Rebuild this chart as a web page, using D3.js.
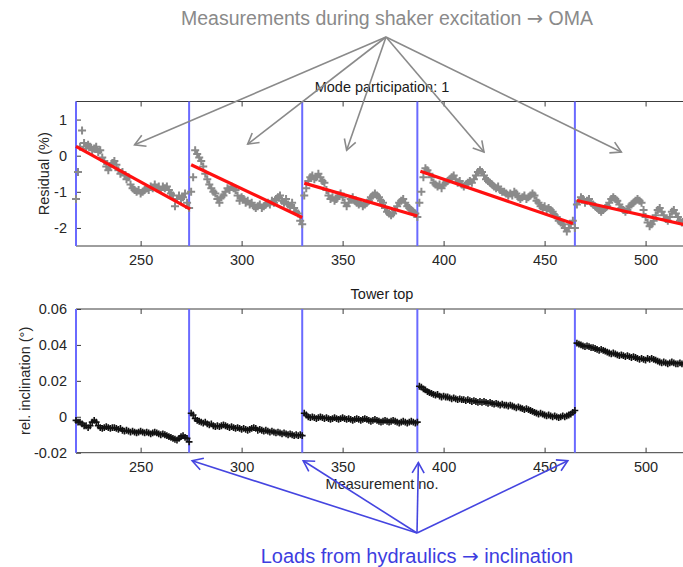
<!DOCTYPE html>
<html>
<head>
<meta charset="utf-8">
<script src="https://cdn.jsdelivr.net/npm/d3@7"></script>
<style>
  html, body { margin: 0; padding: 0; background: #fff; }
  svg { display: block; font-family: "Liberation Sans", Arial, sans-serif; }
</style>
</head>
<body>
<svg id="chart" width="683" height="567"></svg>
<script>
// ---- measurement data -------------------------------------------------
// Measurement numbers where each block of shaker measurements starts
const segmentStarts = [218, 275, 331, 388, 466];
// Measurement numbers at which a hydraulic load step was applied (blue lines)
const loadSteps = [218, 274, 330, 387, 465];

// Mode participation residual (%), one value per measurement
const residualSeg1 = [-1.2,-0.45,0.25,0.7,0.35,0.2,0.3,0.25,0.15,0.2,0.25,0.1,0.15,-0.05,-0.15,-0.3,-0.4,-0.3,-0.2,-0.15,-0.25,-0.4,-0.5,-0.45,-0.55,-0.65,-0.6,-0.8,-0.9,-0.95,-1.0,-0.95,-1.05,-1.0,-0.95,-0.9,-0.95,-0.85,-0.9,-0.8,-0.9,-0.85,-0.95,-0.85,-0.9,-0.85,-0.95,-1.05,-1.1,-1.4,-1.2,-1.1,-1.2,-1.15,-1.05,-1.3,-1.45];
const residualSeg2 = [-1.0,-0.6,0.15,0.05,-0.05,-0.15,-0.3,-0.5,-0.65,-0.8,-0.9,-1.0,-1.05,-1.2,-1.3,-1.15,-1.1,-1.0,-0.9,-0.95,-0.85,-0.9,-0.95,-1.1,-1.25,-1.15,-1.2,-1.3,-1.25,-1.35,-1.3,-1.4,-1.45,-1.4,-1.35,-1.45,-1.4,-1.35,-1.3,-1.35,-1.25,-1.3,-1.2,-1.15,-1.1,-1.25,-1.3,-1.2,-1.35,-1.4,-1.3,-1.45,-1.55,-1.6,-1.8,-1.9];
const residualSeg3 = [-1.1,-0.9,-0.7,-0.6,-0.55,-0.65,-0.6,-0.5,-0.6,-0.7,-0.75,-0.95,-1.1,-1.2,-1.15,-1.25,-1.2,-1.1,-1.05,-1.15,-1.3,-1.4,-1.3,-1.2,-1.15,-1.25,-1.3,-1.35,-1.3,-1.4,-1.35,-1.3,-1.25,-1.15,-1.1,-1.05,-1.1,-1.15,-1.25,-1.3,-1.45,-1.55,-1.6,-1.65,-1.6,-1.5,-1.4,-1.3,-1.25,-1.2,-1.3,-1.4,-1.45,-1.5,-1.55,-1.6,-1.7];
const residualSeg4 = [-1.3,-1.0,-0.6,-0.35,-0.4,-0.5,-0.6,-0.75,-0.8,-0.85,-0.8,-0.9,-0.8,-0.75,-0.7,-0.65,-0.6,-0.55,-0.65,-0.75,-0.7,-0.8,-0.85,-0.8,-0.75,-0.7,-0.75,-0.65,-0.55,-0.45,-0.4,-0.45,-0.55,-0.65,-0.7,-0.75,-0.8,-0.85,-0.9,-0.85,-0.95,-1.0,-1.0,-1.05,-1.1,-1.05,-1.1,-1.0,-1.05,-1.15,-1.2,-1.15,-1.1,-1.2,-1.15,-1.1,-1.05,-1.1,-1.25,-1.3,-1.4,-1.45,-1.4,-1.5,-1.45,-1.5,-1.55,-1.65,-1.7,-1.8,-1.85,-1.9,-2.0,-2.1,-2.0,-1.9,-1.8,-2.0];
const residualSeg5 = [-1.35,-1.25,-1.15,-1.2,-1.3,-1.25,-1.2,-1.3,-1.35,-1.4,-1.45,-1.5,-1.55,-1.5,-1.45,-1.4,-1.3,-1.2,-1.15,-1.2,-1.25,-1.35,-1.45,-1.5,-1.55,-1.5,-1.4,-1.35,-1.3,-1.25,-1.2,-1.25,-1.3,-1.5,-1.7,-1.85,-1.95,-1.9,-1.8,-1.65,-1.5,-1.45,-1.55,-1.65,-1.75,-1.8,-1.7,-1.55,-1.5,-1.6,-1.7,-1.8,-1.85,-1.8,-1.75,-1.7];

// Linear trend of the residual within each block: [measurement, residual]
const fitStart = [[218, 0.26], [275, -0.25], [331, -0.76], [388.5, -0.43], [466, -1.24]];
const fitEnd   = [[274.5, -1.48], [330, -1.71], [387, -1.67], [464, -1.88], [521, -1.93]];

// Relative tower-top inclination (deg), one value per measurement
const inclinationSeg1 = [-0.002,-0.003,-0.003,-0.004,-0.005,-0.005,-0.006,-0.005,-0.003,-0.002,-0.003,-0.005,-0.006,-0.0065,-0.006,-0.0055,-0.006,-0.0065,-0.006,-0.006,-0.0065,-0.007,-0.0065,-0.0075,-0.008,-0.0075,-0.008,-0.0085,-0.008,-0.0085,-0.009,-0.0085,-0.008,-0.0085,-0.009,-0.0085,-0.009,-0.0095,-0.009,-0.0085,-0.009,-0.0095,-0.01,-0.0095,-0.01,-0.0105,-0.011,-0.0115,-0.012,-0.0125,-0.013,-0.012,-0.011,-0.0105,-0.0115,-0.012,-0.014];
const inclinationSeg2 = [0.002,0.001,-0.001,-0.002,-0.0025,-0.003,-0.0035,-0.003,-0.004,-0.0045,-0.004,-0.005,-0.0055,-0.005,-0.0055,-0.005,-0.0045,-0.005,-0.0055,-0.006,-0.0055,-0.006,-0.0065,-0.006,-0.0065,-0.007,-0.0065,-0.007,-0.0075,-0.007,-0.0065,-0.006,-0.0065,-0.0075,-0.007,-0.0075,-0.008,-0.0075,-0.008,-0.0085,-0.008,-0.0085,-0.009,-0.0085,-0.009,-0.0095,-0.009,-0.0095,-0.01,-0.0095,-0.01,-0.0105,-0.01,-0.0105,-0.01,-0.0105];
const inclinationSeg3 = [0.002,0.001,0.0,-0.0005,0.0,-0.0005,-0.001,-0.0005,0.0,-0.0005,-0.001,-0.0005,-0.001,-0.0015,-0.001,-0.0005,-0.001,-0.0015,-0.001,-0.0005,-0.001,-0.0015,-0.001,-0.0015,-0.002,-0.0015,-0.001,-0.0015,-0.002,-0.0015,-0.001,-0.0015,-0.002,-0.0025,-0.002,-0.0015,-0.002,-0.0025,-0.003,-0.0025,-0.002,-0.0025,-0.003,-0.0025,-0.002,-0.0025,-0.003,-0.0035,-0.003,-0.0025,-0.003,-0.0035,-0.003,-0.0025,-0.003,-0.0035,-0.003];
const inclinationSeg4 = [0.017,0.0165,0.0155,0.015,0.014,0.0135,0.013,0.0125,0.012,0.0125,0.0115,0.011,0.0115,0.011,0.011,0.0105,0.01,0.0105,0.01,0.0095,0.01,0.0095,0.0095,0.009,0.0095,0.009,0.0085,0.009,0.0085,0.008,0.0085,0.008,0.0085,0.008,0.0075,0.008,0.0075,0.007,0.0075,0.007,0.0065,0.007,0.0065,0.0065,0.006,0.0065,0.006,0.0055,0.005,0.0055,0.005,0.0045,0.004,0.0045,0.004,0.0035,0.003,0.0025,0.002,0.0015,0.002,0.0015,0.001,0.0005,0.001,0.0005,0.0,0.0005,0.0,-0.0005,0.0,0.0005,0.0,0.0005,0.001,0.0015,0.0025,0.0035];
const inclinationSeg5 = [0.041,0.0405,0.04,0.0395,0.039,0.0395,0.039,0.0385,0.0385,0.038,0.0375,0.037,0.0375,0.037,0.0365,0.036,0.0355,0.035,0.0355,0.035,0.0345,0.034,0.0345,0.034,0.0335,0.034,0.0335,0.033,0.0335,0.033,0.0325,0.032,0.0325,0.032,0.0315,0.0325,0.032,0.0325,0.032,0.0315,0.031,0.0305,0.03,0.0305,0.03,0.0295,0.03,0.0305,0.03,0.0295,0.0295,0.03,0.0295,0.029,0.0295,0.029];

// Axis ticks
const measurementTicks = [250, 300, 350, 400, 450, 500];
const residualTicks = [1, 0, -1, -2];
const inclinationTicks = [0.06, 0.04, 0.02, 0, -0.02];

// Annotation arrow targets in data coordinates
const shakerTargets = [[247, 0.3], [303, 0.32], [352, 0.15], [420, 0.1], [488, 0.1]];
const hydraulicTargets = [[275.5, -0.0245], [330.5, -0.0245], [387.5, -0.0255], [461.5, -0.0245]];

// ---- drawing -----------------------------------------------------------
const svg = d3.select("#chart");
const FONT = '"Liberation Sans", Arial, sans-serif';

const x = d3.scaleLinear().domain([218, 521]).range([76, 688]);
const yRes = d3.scaleLinear().domain([-2.5, 1.5]).range([246, 101.5]);
const yInc = d3.scaleLinear().domain([-0.02, 0.06]).range([452.7, 309]);

function toPoints(segs) {
  const pts = [];
  segs.forEach((vals, k) => vals.forEach((v, i) => pts.push([segmentStarts[k] + i, v])));
  return pts;
}
const residualPoints = toPoints([residualSeg1, residualSeg2, residualSeg3, residualSeg4, residualSeg5]);
const inclinationPoints = toPoints([inclinationSeg1, inclinationSeg2, inclinationSeg3, inclinationSeg4, inclinationSeg5]);

function panel(y, ticks, fmt, points, markColor, markSize, markWidth, title, yLabel, yLabelX) {
  const [y0, y1] = y.range();
  const g = svg.append("g");
  const frame = "#3c3c3c";

  // frame: top, bottom and left edges
  g.append("line").attr("x1", 76).attr("x2", 700).attr("y1", y1).attr("y2", y1).attr("stroke", frame);
  g.append("line").attr("x1", 76).attr("x2", 700).attr("y1", y0).attr("y2", y0).attr("stroke", frame);
  g.append("line").attr("x1", 76).attr("x2", 76).attr("y1", y1).attr("y2", y0).attr("stroke", frame);

  // x ticks (inward, top and bottom) with labels below
  const bottomAxis = d3.axisBottom(x).tickValues(measurementTicks).tickSizeInner(-5).tickSizeOuter(0).tickPadding(9);
  const ax = g.append("g").attr("transform", `translate(0,${y0})`).call(bottomAxis);
  ax.select(".domain").remove();
  ax.selectAll("line").attr("stroke", frame);
  ax.selectAll("text").attr("font-size", 14.5).attr("font-family", FONT).attr("fill", "#262626");
  const topAxis = d3.axisTop(x).tickValues(measurementTicks).tickSizeInner(-5).tickSizeOuter(0).tickFormat("");
  const at = g.append("g").attr("transform", `translate(0,${y1})`).call(topAxis);
  at.select(".domain").remove();
  at.selectAll("line").attr("stroke", frame);

  // y ticks (inward) with labels on the left
  const leftAxis = d3.axisLeft(y).tickValues(ticks).tickFormat(fmt).tickSizeInner(-5).tickSizeOuter(0).tickPadding(9);
  const ay = g.append("g").attr("transform", "translate(76,0)").call(leftAxis);
  ay.select(".domain").remove();
  ay.selectAll("line").attr("stroke", frame);
  ay.selectAll("text").attr("font-size", 14.5).attr("font-family", FONT).attr("fill", "#262626");

  // load step markers
  g.selectAll(".step").data(loadSteps).join("line")
    .attr("x1", d => x(d)).attr("x2", d => x(d))
    .attr("y1", y1).attr("y2", y0)
    .attr("stroke", "#6a6aff").attr("stroke-width", 2);

  // measurement markers ("+")
  g.append("path")
    .attr("d", points.map(([m, v]) => {
      const cx = x(m), cy = y(v);
      return `M${cx - markSize},${cy}h${2 * markSize}M${cx},${cy - markSize}v${2 * markSize}`;
    }).join(""))
    .attr("stroke", markColor).attr("stroke-width", markWidth).attr("fill", "none");

  // title
  g.append("text").attr("x", 382).attr("y", y1 - 10).attr("text-anchor", "middle")
    .attr("font-size", 14.5).attr("font-family", FONT).attr("fill", "#1a1a1a").text(title);

  // y label
  g.append("text")
    .attr("transform", `translate(${yLabelX},${(y0 + y1) / 2}) rotate(-90)`)
    .attr("text-anchor", "middle").attr("dominant-baseline", "central")
    .attr("font-size", 14.5).attr("font-family", FONT).attr("fill", "#262626").text(yLabel);
  return g;
}

const residualPanel = panel(yRes, residualTicks, d => d3.format("d")(d).replace("−", "-"), residualPoints,
  "#8a8a8a", 4, 2, "Mode participation: 1", "Residual (%)", 44);

// residual trend lines
residualPanel.selectAll(".fit").data(fitStart.map((s, i) => [s, fitEnd[i]])).join("line")
  .attr("x1", d => x(d[0][0])).attr("y1", d => yRes(d[0][1]))
  .attr("x2", d => x(d[1][0])).attr("y2", d => yRes(d[1][1]))
  .attr("stroke", "#ff1010").attr("stroke-width", 3.2);

panel(yInc, inclinationTicks, d => (d === 0 ? "0" : d3.format(".2f")(d).replace("−", "-")), inclinationPoints,
  "#111", 3.4, 1.6, "Tower top", "rel. inclination (°)", 25);

// x label of the lower panel
svg.append("text").attr("x", 382).attr("y", 489).attr("text-anchor", "middle")
  .attr("font-size", 14.5).attr("font-family", FONT).attr("fill", "#262626").text("Measurement no.");

// ---- annotations -------------------------------------------------------
function arrow(g, from, to, color) {
  const ang = Math.atan2(to[1] - from[1], to[0] - from[0]);
  const len = 12, spread = Math.PI / 6;
  g.append("line").attr("x1", from[0]).attr("y1", from[1]).attr("x2", to[0]).attr("y2", to[1])
    .attr("stroke", color).attr("stroke-width", 1.6);
  const head = [ang + Math.PI - spread, ang + Math.PI + spread].map(a => [to[0] + len * Math.cos(a), to[1] + len * Math.sin(a)]);
  g.append("path").attr("d", `M${head[0][0]},${head[0][1]}L${to[0]},${to[1]}L${head[1][0]},${head[1][1]}`)
    .attr("fill", "none").attr("stroke", color).attr("stroke-width", 1.6);
}

// caption with a full-size arrow glyph between the two phrases
function caption(g, cx, cy, size, color, before, after) {
  const t = g.append("text").attr("x", cx).attr("y", cy).attr("text-anchor", "middle")
    .attr("font-size", size).attr("font-family", FONT).attr("fill", color);
  t.append("tspan").text(before + " ");
  t.append("tspan").attr("font-family", '"DejaVu Sans", sans-serif').text("→");
  t.append("tspan").text(" " + after);
}

const ann = svg.append("g");
caption(ann, 387, 25, 19.5, "#8a8a8a", "Measurements during shaker excitation", "OMA");
shakerTargets.forEach(([m, v]) => arrow(ann, [386, 37], [x(m), yRes(v)], "#8a8a8a"));

caption(ann, 417, 563, 20, "#3d3de0", "Loads from hydraulics", "inclination");
hydraulicTargets.forEach(([m, v]) => arrow(ann, [417, 533], [x(m), yInc(v)], "#4545e0"));
</script>
</body>
</html>
